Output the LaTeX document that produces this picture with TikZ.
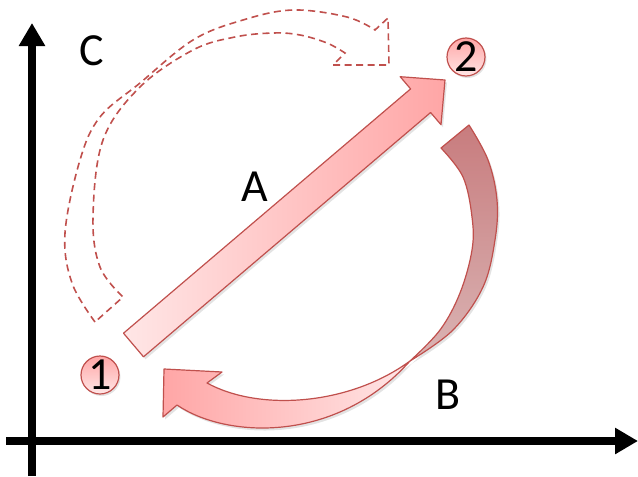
\documentclass[tikz,border=0pt]{standalone}
\usepackage{fontspec}
\setmainfont{Carlito}
\usetikzlibrary{arrows.meta,shadows}
\definecolor{edgered}{RGB}{192,80,77}
\definecolor{pinkdeep}{RGB}{255,166,166}
\definecolor{pinkpale}{RGB}{255,230,230}
\definecolor{rosedark}{RGB}{200,124,126}
\definecolor{roselite}{RGB}{218,180,180}

\begin{document}
\begin{tikzpicture}[
    x=1pt, y=-1pt,
    axis/.style={line width=8pt, -{Triangle[length=23pt, width=25pt]}},
    block/.style={draw=edgered, line width=1.2pt, line join=round,
                  drop shadow={opacity=0.22, shadow xshift=2pt, shadow yshift=-2.5pt}},
    ghost/.style={draw=edgered, line width=1.6pt, dash pattern=on 7pt off 4.5pt},
    numc/.style={circle, draw=edgered, line width=1.2pt, minimum size=38pt,
                 inner sep=0pt, top color=pinkdeep, bottom color=pinkpale,
                 drop shadow={opacity=0.22, shadow xshift=1.5pt, shadow yshift=-2pt}},
    digit/.style={font=\fontsize{46}{48}\selectfont, inner sep=0pt},
    lbl/.style={font=\fontsize{46}{48}\selectfont, inner sep=0pt}
  ]
  \useasboundingbox (0,0) rectangle (638,477);

  % axes
  \coordinate (ybot) at (32,476);
  \coordinate (ytop) at (32,23);
  \coordinate (xleft) at (6,441);
  \coordinate (xright) at (638,441);
  \draw[axis] (ybot) -- (ytop);
  \draw[axis] (xleft) -- (xright);

  % C: dashed curved arrow (outline only)
  \draw[ghost] plot[smooth, tension=0.6] coordinates {(95,322) (72,283) (65,233)
      (80,160) (100,117) (140,83) (193,40) (243,20) (293,10) (347,17) (375,30)}
    -- (388,18) -- (389,65) -- (333,65) -- (345,53)
    -- plot[smooth, tension=0.6] coordinates {(345,53) (327,43) (300,35) (273,33)
      (235,37) (193,50) (140,87) (103,140) (93,217) (100,267) (123,297)}
    -- cycle;

  % B: curved arrow, back face
  \draw[block, top color=rosedark, bottom color=roselite]
    plot[smooth, tension=0.6] coordinates {(469,125) (488,160) (497,200)
      (495,240) (483,287) (453,330) (410,361)}
    -- plot[smooth, tension=0.6] coordinates {(410,361) (440,330) (460,293)
      (472,250) (472,217) (463,177) (441,148)}
    -- cycle;
  % B: curved arrow, front face
  \draw[block, left color=pinkdeep, right color=pinkpale]
    (164,369) -- (222,372) -- (207,383)
    .. controls (260,412) and (350,405) .. (410,361)
    .. controls (335,445) and (225,438) .. (177,405)
    -- (163,417) -- cycle;

  % A: straight arrow
  \draw[block, left color=pinkpale, right color=pinkdeep]
    (123.5,333.2) -- (410.6,88.9) -- (400.2,76.7) -- (445,80)
    -- (441,124.7) -- (430.6,112.5) -- (143.5,356.8) -- cycle;

  % states
  \node[numc, label={[digit]center:1}] (p1) at (100,375) {};
  \node[numc, label={[digit]center:2}] (p2) at (466,57) {};

  % labels
  \node[lbl] (labC) at (92,51) {C};
  \node[lbl] (labA) at (255,187) {A};
  \node[lbl] (labB) at (448,395) {B};
\end{tikzpicture}
\end{document}
